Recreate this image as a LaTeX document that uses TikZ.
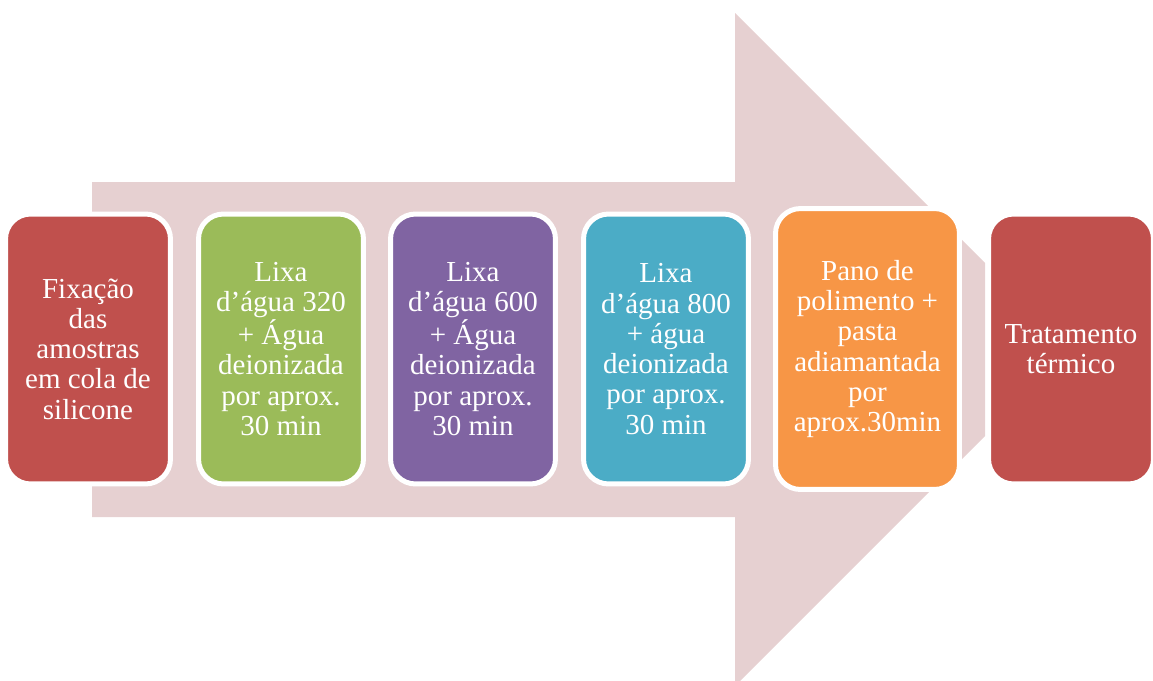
\documentclass[tikz,border=0pt]{standalone}
\usepackage{fontspec}
\setmainfont{Liberation Serif}
\newfontfamily\boxfont{Liberation Serif}
\usepackage{tikz}
\definecolor{arrowpink}{HTML}{E6D0D1}
\definecolor{boxred}{HTML}{C0504D}
\definecolor{boxgreen}{HTML}{9BBB59}
\definecolor{boxpurple}{HTML}{8064A2}
\definecolor{boxteal}{HTML}{4BACC6}
\definecolor{boxorange}{HTML}{F79646}
\begin{document}
\begin{tikzpicture}[x=0.02cm,y=-0.02cm]
\tikzstyle{every node}=[draw=white,line width=0.1cm,rounded corners=0.5cm,text=white,align=center,minimum width=3.3cm,minimum height=5.4cm,font=\boxfont\fontsize{16.5}{17.2}\selectfont];
\useasboundingbox (0,0) rectangle (1153,680);
\fill[arrowpink] (92,182) -- (735,182) -- (735,13) -- (985,263) -- (985,436) -- (735,686) -- (735,517) -- (92,517) -- cycle;
\node[fill=boxred] (fixacao) at (88,349) {Fixação\\das\\amostras\\em cola de\\silicone};
\node[fill=boxgreen] (lixa320) at (281,349) {Lixa\\d’água 320\\+ Água\\deionizada\\por aprox.\\30 min};
\node[fill=boxpurple] (lixa600) at (473,349) {Lixa\\d’água 600\\+ Água\\deionizada\\por aprox.\\30 min};
\node[fill=boxteal] (lixa800) at (666,349) {Lixa\\d’água 800\\+ água\\deionizada\\por aprox.\\30 min};
\node[fill=boxorange,minimum width=3.68cm,minimum height=5.62cm] (pano) at (867.5,349) {Pano de\\polimento +\\pasta\\adiamantada\\por\\aprox.30min};
\node[fill=boxred] (tratamento) at (1071,349) {Tratamento\\térmico};
\end{tikzpicture}
\end{document}
